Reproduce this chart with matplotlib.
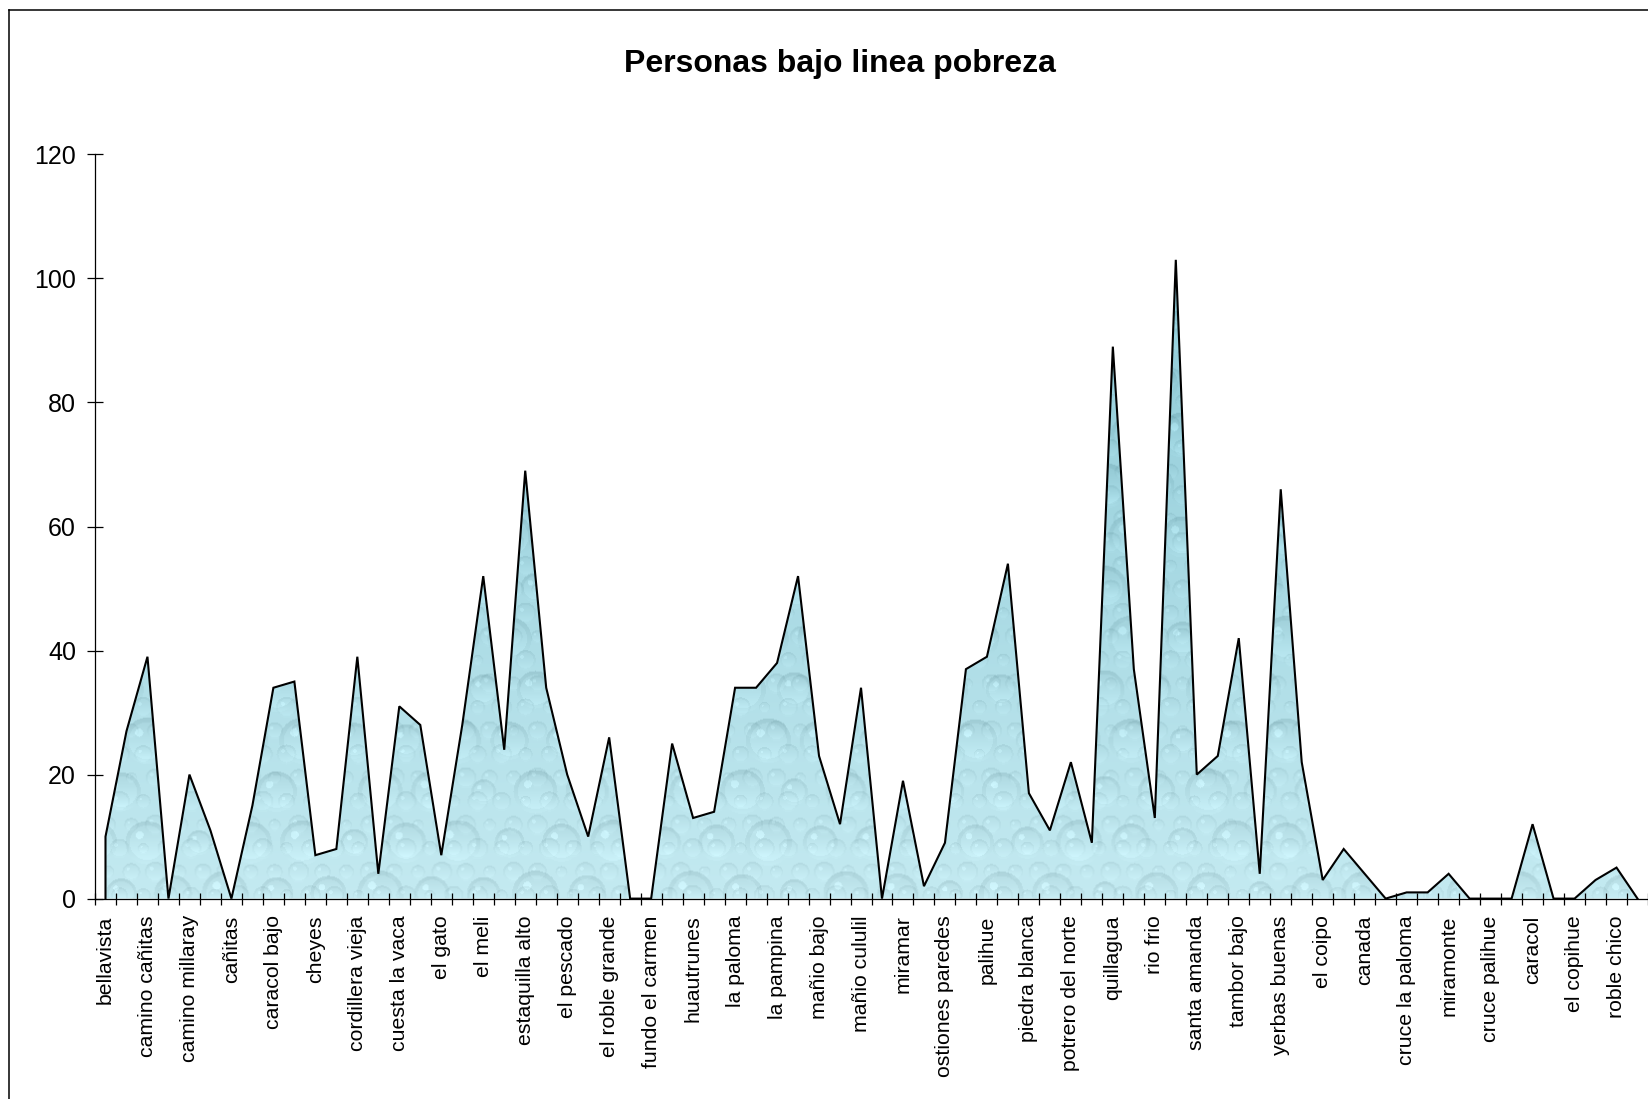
import numpy as np
import matplotlib
matplotlib.use("Agg")
import matplotlib.pyplot as plt
from matplotlib.patches import Polygon
from matplotlib.lines import Line2D
from matplotlib.ticker import FixedLocator, NullFormatter

plt.rcParams['font.family'] = ['Liberation Sans', 'DejaVu Sans']

title = "Personas bajo linea pobreza"

labels = ["bellavista", "camino cañitas", "camino millaray", "cañitas", "caracol bajo",
          "cheyes", "cordillera vieja", "cuesta la vaca", "el gato", "el meli",
          "estaquilla alto", "el pescado", "el roble grande", "fundo el carmen",
          "huautrunes", "la paloma", "la pampina", "mañio bajo", "mañio cululil",
          "miramar", "ostiones paredes", "palihue", "piedra blanca", "potrero del norte",
          "quillagua", "rio frio", "santa amanda", "tambor bajo", "yerbas buenas",
          "el coipo", "canada", "cruce la paloma", "miramonte", "cruce palihue",
          "caracol", "el copihue", "roble chico"]

values = [10, 27, 39, 0, 20, 11, 0, 15, 34, 35,
          7, 8, 39, 4, 31, 28, 7, 28, 52, 24,
          69, 34, 20, 10, 26, 0, 0, 25, 13, 14,
          34, 34, 38, 52, 23, 12, 34, 0, 19, 2,
          9, 37, 39, 54, 17, 11, 22, 9, 89, 37,
          13, 103, 20, 23, 42, 4, 66, 22, 3, 8,
          4, 0, 1, 1, 4, 0, 0, 0, 12, 0,
          0, 3, 5, 0]

yticks = [0, 20, 40, 60, 80, 100, 120]

W, H = 1648, 1099
fig = plt.figure(figsize=(W / 100, H / 100), dpi=100)

# outer chart frame (only left and top edges visible)
fig.add_artist(Line2D([8.7 / W, 8.7 / W], [0, 1 - 10.3 / H], color='black', lw=1.1))
fig.add_artist(Line2D([8.7 / W, 1], [1 - 10.3 / H, 1 - 10.3 / H], color='black', lw=1.1))

ax_left, ax_right = 95 / W, 1.0
ax_bottom, ax_top = 1 - 898.6 / H, 1 - 154.4 / H
ax = fig.add_axes([ax_left, ax_bottom, ax_right - ax_left, ax_top - ax_bottom])
ax.patch.set_alpha(0)

n = len(values)
x = np.arange(n)
ax.set_xlim(-0.5, n - 0.5)
ax.set_ylim(0, 120)


def water_texture(h=760, w=1560):
    yy, xx = np.mgrid[0:h, 0:w].astype(float)
    t = (yy / h)[..., None]
    top = np.array([0x84, 0xc4, 0xd2]) / 255.0
    bot = np.array([0xc4, 0xea, 0xf1]) / 255.0
    img = top * (1 - t) + bot * t
    shade = np.zeros((h, w))
    for cell, amp in [(52, 0.8), (24, 0.55)]:
        row = np.floor(yy / cell)
        xs = xx + (row % 2) * cell / 2.0
        col = np.floor(xs / cell)
        cx = (col + 0.5) * cell
        cy = (row + 0.5) * cell
        dx = xs - cx
        dy = yy - cy
        r = cell * 0.45 * (0.5 + 0.5 * np.abs(np.sin(row * 1.37 + col * 2.13)))
        d = np.sqrt(dx ** 2 + dy ** 2) / r
        inside = d < 1
        s = np.where(inside, amp * 0.06 * (dy / r), 0.0)
        s += np.where((d > 0.8) & inside, -0.04 * amp, 0.0)
        hd = np.sqrt((dx + 0.35 * r) ** 2 + (dy + 0.35 * r) ** 2) / r
        s += np.where(hd < 0.18, 0.08 * amp, 0.0)
        shade += s
    img = img + shade[..., None]
    return np.clip(img, 0, 1)


verts = [(0, 0)] + list(zip(x, values)) + [(n - 1, 0)]
clip_poly = Polygon(verts, closed=True, transform=ax.transData, facecolor='none', edgecolor='none')
ax.add_patch(clip_poly)
im = ax.imshow(water_texture(), extent=(-0.5, n - 0.5, 0, 120), aspect='auto',
               origin='upper', interpolation='bilinear', zorder=1)
im.set_clip_path(clip_poly)

ax.plot(np.concatenate([[0], x]), np.concatenate([[0], values]), color='black',
        lw=1.5, solid_joinstyle='miter', zorder=3)

# spines
for s in ['top', 'right']:
    ax.spines[s].set_visible(False)
for s in ['left', 'bottom']:
    ax.spines[s].set_color('black')
    ax.spines[s].set_linewidth(0.9)
    ax.spines[s].set_zorder(4)

# y axis
ax.set_yticks(yticks)
ax.set_yticklabels([str(v) for v in yticks])
ax.tick_params(axis='y', which='major', direction='inout', length=11.5, width=0.9,
               labelsize=18, pad=8, colors='black')

# x axis: ticks at category boundaries, labels at every other category
ax.xaxis.set_major_locator(FixedLocator(np.arange(-0.5, n, 1.0)))
ax.xaxis.set_major_formatter(NullFormatter())
ax.set_xticks(np.arange(0, n, 2), minor=True)
ax.set_xticklabels(labels, minor=True, rotation=90, va='top', ha='center')
ax.tick_params(axis='x', which='major', direction='inout', length=8, width=0.9)
ax.tick_params(axis='x', which='minor', length=0, labelsize=15.3, pad=12)

fig.text(840 / W, 1 - 64 / H, title, ha='center', va='center', fontsize=23,
         fontweight='bold')

fig.savefig("out.png", dpi=100, facecolor='white')
